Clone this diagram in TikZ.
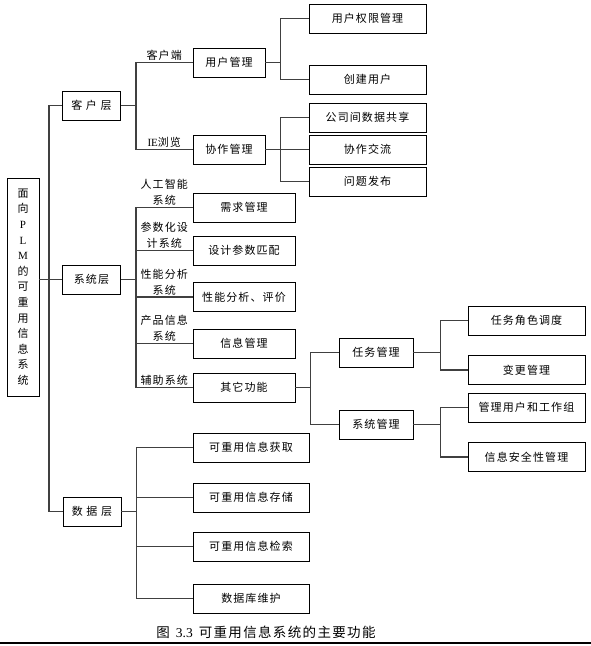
\documentclass[tikz,border=0pt]{standalone}
\usepackage{fontspec}
\setmainfont{Noto Sans CJK SC}[LetterSpace=10]
\newfontfamily\latin{Liberation Serif}
\usetikzlibrary{positioning, calc}

\begin{document}
\begin{tikzpicture}[
    x=1pt, y=-1pt,
    box/.style={rectangle, draw, line width=0.9pt, minimum height=29pt, inner sep=0pt, align=center, font=\fontsize{11}{13}\selectfont},
    tier/.style={box, minimum width=58pt},
    midbox/.style={box, minimum width=72pt},
    subbox/.style={box, minimum width=102pt},
    leaf/.style={box, minimum width=117pt},
    link/.style={draw=black!75, line width=1.3pt},
    tag/.style={font=\fontsize{11}{16}\selectfont, align=center, inner sep=1.5pt, above}
]
\useasboundingbox (0,0) rectangle (591,646);

% Root
\node[box, minimum width=32pt, minimum height=218pt, font=\fontsize{11}{15.6}\selectfont] (root) at (23,287)
  {面\\向\\{\latin P}\\{\latin L}\\{\latin M}\\的\\可\\重\\用\\信\\息\\系\\统};

% Layers
\node[tier] (client) at (91.5,105.5) {客 户 层};
\node[tier] (system) at (91.5,279.5) {系统层};
\node[tier] (data) at (92,511.5) {数 据 层};

% Client layer
\node[midbox] (usermgmt) at (229,62.5) {用户管理};
\node[midbox] (collab) at (229,149.5) {协作管理};
\node[leaf] (perm) at (367.5,18.5) {用户权限管理};
\node[leaf] (create) at (367.5,79.5) {创建用户};
\node[leaf] (share) at (367.5,117.5) {公司间数据共享};
\node[leaf] (comm) at (367.5,149.5) {协作交流};
\node[leaf] (issue) at (367.5,181.5) {问题发布};

% System layer
\node[subbox] (req) at (244,207.5) {需求管理};
\node[subbox] (param) at (244,250.5) {设计参数匹配};
\node[subbox] (perf) at (244,297) {性能分析、评价};
\node[subbox] (info) at (244,343.5) {信息管理};
\node[subbox] (other) at (244,387.5) {其它功能};
\node[box, minimum width=74pt] (task) at (376,352.5) {任务管理};
\node[box, minimum width=74pt] (sysmgmt) at (376,424.5) {系统管理};
\node[leaf] (role) at (526.5,320.5) {任务角色调度};
\node[leaf] (change) at (526.5,370) {变更管理};
\node[leaf] (group) at (526.5,407.5) {管理用户和工作组};
\node[leaf] (secure) at (526.5,457) {信息安全性管理};

% Data layer
\node[leaf, minimum width=116pt] (acq) at (251,447.5) {可重用信息获取};
\node[leaf, minimum width=116pt] (store) at (251,497.5) {可重用信息存储};
\node[leaf, minimum width=116pt] (search) at (251,546.5) {可重用信息检索};
\node[leaf, minimum width=116pt] (dbm) at (251,598.5) {数据库维护};

% Caption
\node[font=\fontsize{13.5}{15}\selectfont] (caption) at (266,632) {图\hspace{6pt}{\latin 3.3}\hspace{6pt}可重用信息系统的主要功能};
\draw[line width=1.5pt] (0,643) -- (591,643);

% Trunk
\coordinate (trunk) at (49,279.5);
\draw[link] (root.east |- system) -- (trunk);
\draw[link] (trunk) |- (client.west);
\draw[link] (trunk) -- (system.west);
\draw[link] (trunk) |- (data.west);

% Client branches
\coordinate (cbr) at ($(client.east)+(15,0)$);
\draw[link] (client.east) -- (cbr);
\draw[link] (cbr) |- node[tag, pos=0.75] (tclient) {客户端} (usermgmt.west);
\draw[link] (cbr) |- node[tag, pos=0.75] (tie) {{\latin IE}浏览} (collab.west);

\coordinate (ubr) at ($(usermgmt.east)+(15,0)$);
\draw[link] (usermgmt.east) -- (ubr);
\draw[link] (ubr) |- (perm.west);
\draw[link] (ubr) |- (create.west);

\coordinate (kbr) at ($(collab.east)+(15,0)$);
\draw[link] (collab.east) -- (kbr);
\draw[link] (kbr) |- (share.west);
\draw[link] (kbr) -- (comm.west);
\draw[link] (kbr) |- (issue.west);

% System branches
\coordinate (sbr) at ($(system.east)+(15,0)$);
\draw[link] (system.east) -- (sbr);
\draw[link] (sbr) |- node[tag, pos=0.75] (tai) {人工智能\\系统} (req.west);
\draw[link] (sbr) |- node[tag, pos=0.75] (tpar) {参数化设\\计系统} (param.west);
\draw[link] (sbr) |- node[tag, pos=0.75] (tperf) {性能分析\\系统} (perf.west);
\draw[link] (sbr) |- node[tag, pos=0.75] (tprod) {产品信息\\系统} (info.west);
\draw[link] (sbr) |- node[tag, pos=0.75] (taux) {辅助系统} (other.west);

\coordinate (obr) at ($(other.east)+(15,0)$);
\draw[link] (other.east) -- (obr);
\draw[link] (obr) |- (task.west);
\draw[link] (obr) |- (sysmgmt.west);

\coordinate (tbr) at ($(task.east)+(27,0)$);
\draw[link] (task.east) -- (tbr);
\draw[link] (tbr) |- (role.west);
\draw[link] (tbr) |- (change.west);

\coordinate (mbr) at ($(sysmgmt.east)+(27,0)$);
\draw[link] (sysmgmt.east) -- (mbr);
\draw[link] (mbr) |- (group.west);
\draw[link] (mbr) |- (secure.west);

% Data branches
\coordinate (dbr) at ($(data.east)+(15,0)$);
\draw[link] (data.east) -- (dbr);
\draw[link] (dbr) |- (acq.west);
\draw[link] (dbr) |- (store.west);
\draw[link] (dbr) |- (search.west);
\draw[link] (dbr) |- (dbm.west);

\end{tikzpicture}
\end{document}
